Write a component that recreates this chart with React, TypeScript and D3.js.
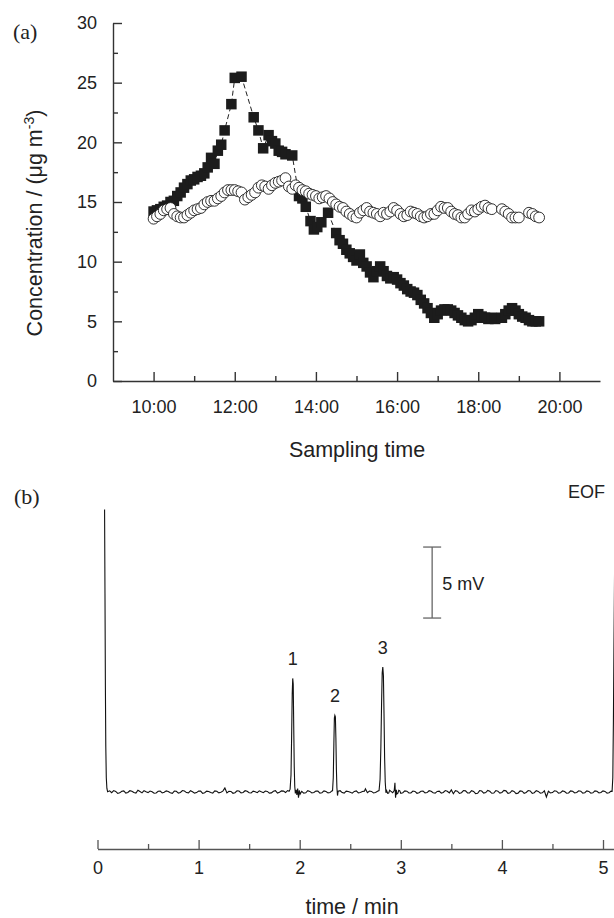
import { useEffect, useRef } from "react";
import * as d3 from "d3";

const W = 614;
const H = 918;
const SANS = "'Liberation Sans', Arial, Helvetica, sans-serif";
const SERIF = "'Liberation Serif', 'Times New Roman', serif";

// panel (a): sampling time vs concentration (µg m-3)
const squareSeries: [string, number][] = [
  ["10:00", 14.2], ["10:05", 14.3], ["10:10", 14.4], ["10:15", 14.6], ["10:20", 14.7],
  ["10:25", 15.0], ["10:30", 15.1], ["10:35", 15.5], ["10:40", 15.8], ["10:45", 16.2],
  ["10:50", 16.5], ["10:55", 16.8], ["11:00", 16.9], ["11:05", 17.1], ["11:10", 17.2],
  ["11:15", 17.4], ["11:20", 17.9], ["11:25", 18.7], ["11:30", 18.2], ["11:35", 19.3],
  ["11:40", 19.8], ["11:45", 21.0], ["11:55", 23.2], ["12:00", 25.4], ["12:10", 25.5],
  ["12:28", 22.1], ["12:35", 21.0], ["12:42", 19.5], ["12:50", 20.6], ["12:55", 20.1],
  ["13:00", 19.9], ["13:05", 19.3], ["13:10", 19.2], ["13:15", 19.0], ["13:25", 18.9],
  ["13:35", 15.5], ["13:40", 15.3], ["13:45", 14.6], ["13:52", 13.4], ["13:57", 12.7],
  ["14:02", 12.9], ["14:08", 13.3], ["14:18", 14.1], ["14:30", 12.4], ["14:35", 11.8],
  ["14:40", 11.5], ["14:45", 11.0], ["14:50", 10.7], ["14:55", 10.4], ["15:00", 10.1],
  ["15:05", 10.6], ["15:10", 9.9], ["15:15", 9.6], ["15:20", 9.1], ["15:25", 8.7],
  ["15:30", 9.2], ["15:35", 9.6], ["15:40", 9.2], ["15:45", 8.8], ["15:50", 8.6],
  ["15:55", 8.7], ["16:00", 8.5], ["16:05", 8.2], ["16:10", 8.0], ["16:15", 7.7],
  ["16:20", 7.5], ["16:25", 7.4], ["16:30", 7.2], ["16:35", 6.8], ["16:40", 6.5],
  ["16:45", 6.1], ["16:50", 5.7], ["16:55", 5.3], ["17:00", 5.6], ["17:05", 5.9],
  ["17:10", 6.0], ["17:15", 6.0], ["17:20", 5.9], ["17:25", 5.7], ["17:30", 5.5],
  ["17:35", 5.3], ["17:40", 5.1], ["17:45", 5.0], ["17:50", 5.1], ["17:55", 5.3],
  ["18:00", 5.6], ["18:05", 5.4], ["18:10", 5.3], ["18:15", 5.2], ["18:20", 5.3],
  ["18:25", 5.2], ["18:35", 5.3], ["18:40", 5.6], ["18:45", 5.9], ["18:50", 6.1],
  ["18:55", 5.9], ["19:00", 5.6], ["19:05", 5.4], ["19:10", 5.3], ["19:15", 5.1],
  ["19:20", 5.0], ["19:25", 5.0], ["19:30", 5.0],
];

const circleSeries: [string, number][] = [
  ["10:00", 13.6], ["10:05", 13.8], ["10:10", 14.0], ["10:15", 14.3], ["10:20", 14.4],
  ["10:25", 14.5], ["10:30", 14.0], ["10:35", 13.8], ["10:40", 13.7], ["10:45", 13.7],
  ["10:50", 13.9], ["10:55", 14.1], ["11:00", 14.3], ["11:05", 14.4], ["11:10", 14.5],
  ["11:15", 14.8], ["11:20", 15.0], ["11:25", 15.1], ["11:30", 15.1], ["11:35", 15.3],
  ["11:40", 15.5], ["11:45", 15.8], ["11:50", 16.0], ["11:55", 16.0], ["12:00", 16.0],
  ["12:05", 15.9], ["12:10", 15.8], ["12:15", 15.2], ["12:20", 15.4], ["12:25", 15.6],
  ["12:30", 15.8], ["12:35", 16.2], ["12:40", 16.4], ["12:45", 16.3], ["12:50", 16.1],
  ["12:55", 16.4], ["13:00", 16.6], ["13:05", 16.7], ["13:10", 16.8], ["13:15", 17.0],
  ["13:20", 16.3], ["13:25", 16.1], ["13:30", 16.4], ["13:35", 16.2], ["13:40", 16.0],
  ["13:45", 15.9], ["13:50", 15.7], ["13:55", 15.6], ["14:00", 15.5], ["14:05", 15.3],
  ["14:10", 15.4], ["14:15", 15.5], ["14:20", 15.3], ["14:25", 15.0], ["14:30", 14.8],
  ["14:35", 14.6], ["14:40", 14.5], ["14:45", 14.2], ["14:50", 14.0], ["14:55", 13.8],
  ["15:00", 13.7], ["15:05", 14.1], ["15:10", 14.3], ["15:15", 14.5], ["15:20", 14.2],
  ["15:25", 14.1], ["15:30", 14.0], ["15:35", 13.8], ["15:40", 14.1], ["15:45", 14.0],
  ["15:50", 14.2], ["15:55", 14.5], ["16:00", 14.3], ["16:05", 14.0], ["16:10", 13.8],
  ["16:15", 13.9], ["16:20", 14.2], ["16:25", 14.1], ["16:30", 14.0], ["16:35", 13.8],
  ["16:40", 13.7], ["16:45", 13.8], ["16:50", 14.0], ["16:55", 14.0], ["17:00", 14.3],
  ["17:05", 14.6], ["17:10", 14.5], ["17:15", 14.5], ["17:20", 14.2], ["17:25", 14.0],
  ["17:30", 13.9], ["17:35", 13.7], ["17:40", 13.7], ["17:45", 14.0], ["17:50", 14.3],
  ["17:55", 14.2], ["18:00", 14.4], ["18:05", 14.6], ["18:10", 14.7], ["18:15", 14.5],
  ["18:20", 14.4], ["18:35", 14.4], ["18:40", 14.2], ["18:45", 14.0], ["18:50", 13.7],
  ["18:55", 13.7], ["19:00", 13.7], ["19:15", 14.1], ["19:20", 14.0], ["19:25", 13.8],
  ["19:30", 13.7],
];

const hourTicks = [10, 12, 14, 16, 18, 20];
const hourMinor = [11, 13, 15, 17, 19];
const concTicks = [0, 5, 10, 15, 20, 25, 30];
const concMinor = [2.5, 7.5, 12.5, 17.5, 22.5, 27.5];

// panel (b): electropherogram, time (min) vs signal (mV above baseline)
const minTicks = [0, 1, 2, 3, 4, 5];
const minMinor = [0.5, 1.5, 2.5, 3.5, 4.5];

const chromTrace: [number, number][] = [
  [0.070, 19.9], [0.074, 14.0], [0.078, 7.5], [0.082, 3.2], [0.087, 1.0], [0.093, 0.25], [0.10, 0.02],
  [0.12, 0.08], [0.14, -0.05], [0.16, 0.1], [0.18, 0.04], [0.20, -0.1], [0.22, -0.06], [0.24, 0.05],
  [0.26, 0.08], [0.28, -0.08], [0.30, -0.03], [0.32, 0.09], [0.34, 0.05], [0.36, -0.04], [0.38, -0.08],
  [0.40, 0.12], [0.42, 0.03], [0.44, -0.06], [0.46, 0.1], [0.48, 0.02], [0.50, -0.04], [0.52, 0.07],
  [0.54, 0.02], [0.56, -0.09], [0.58, -0.07], [0.60, 0.05], [0.62, 0.06], [0.64, -0.07], [0.66, -0.02],
  [0.68, 0.08], [0.70, 0.04], [0.72, -0.05], [0.74, -0.09], [0.76, 0.06], [0.78, 0.05], [0.80, -0.08],
  [0.82, -0.03], [0.84, 0.1], [0.86, 0.07], [0.88, -0.04], [0.90, -0.06], [0.92, 0.09], [0.94, 0.02],
  [0.96, -0.08], [0.98, -0.04], [1.00, 0.07], [1.02, 0.06], [1.04, -0.1], [1.06, -0.05], [1.08, 0.06],
  [1.10, 0.03], [1.12, -0.04], [1.14, -0.08], [1.16, 0.08], [1.18, 0.05], [1.20, -0.06], [1.22, -0.02],
  [1.24, 0.06], [1.26, 0.28], [1.28, -0.06], [1.30, 0.05], [1.32, 0.04], [1.34, -0.09], [1.36, -0.05],
  [1.38, 0.08], [1.40, 0.07], [1.42, -0.06], [1.44, -0.03], [1.46, 0.09], [1.48, 0.05], [1.50, -0.05],
  [1.52, -0.07], [1.54, 0.06], [1.56, 0.02], [1.58, -0.05], [1.60, 0.08], [1.62, 0.01], [1.64, -0.05],
  [1.66, 0.07], [1.68, 0.04], [1.70, -0.08], [1.72, -0.06], [1.74, 0.05], [1.76, 0.09], [1.78, -0.07],
  [1.80, -0.02], [1.82, 0.08], [1.84, 0.06], [1.86, -0.04], [1.88, 0.1], [1.895, 0.05], [1.905, 0.2],
  [1.914, 1.2], [1.920, 3.8], [1.926, 6.9], [1.931, 8.0], [1.936, 7.6], [1.941, 4.6], [1.946, 1.8],
  [1.951, 0.4], [1.957, -0.1],
  [1.965, 0.15], [1.972, -0.2], [1.980, 0.25], [1.988, -0.4], [1.996, 0.12], [2.004, -0.15], [2.02, 0.05],
  [2.04, -0.08], [2.06, -0.06], [2.08, 0.09], [2.10, 0.04], [2.12, -0.07], [2.14, -0.03], [2.16, 0.06],
  [2.18, 0.07], [2.20, -0.08], [2.22, -0.05], [2.24, 0.08], [2.26, 0.03], [2.28, -0.06], [2.30, -0.04],
  [2.315, 0.06], [2.325, 0.1],
  [2.332, 1.0], [2.338, 3.4], [2.343, 5.2], [2.348, 5.4], [2.353, 5.3], [2.358, 3.8], [2.363, 1.6],
  [2.368, 0.3], [2.374, -0.25],
  [2.38, 0.05], [2.40, 0.09], [2.42, -0.04], [2.44, -0.08], [2.46, 0.06], [2.48, 0.04], [2.50, -0.02],
  [2.52, -0.08], [2.54, 0.04], [2.56, 0.08], [2.58, -0.06], [2.60, -0.03], [2.62, 0.03], [2.64, 0.06],
  [2.65, 0.22], [2.67, -0.05], [2.69, 0.07], [2.71, 0.04], [2.73, -0.07], [2.75, -0.03], [2.77, 0.05],
  [2.785, 0.1],
  [2.795, 0.9], [2.803, 3.2], [2.810, 6.3], [2.816, 8.4], [2.822, 8.8], [2.828, 8.2], [2.834, 5.5],
  [2.840, 2.4], [2.846, 0.7], [2.853, -0.05],
  [2.86, 0.1], [2.87, -0.1], [2.88, -0.08], [2.89, 0.12], [2.90, 0.06], [2.92, -0.05], [2.935, 0.1],
  [2.942, 0.65], [2.948, -0.4], [2.956, 0.15], [2.96, -0.15], [2.97, -0.1], [2.98, 0.12], [2.99, 0.08],
  [3.00, -0.1], [3.02, -0.05], [3.04, 0.08], [3.06, 0.06], [3.08, -0.06], [3.10, -0.07], [3.12, 0.07],
  [3.14, 0.04], [3.16, -0.09], [3.18, -0.05], [3.20, 0.05], [3.22, 0.07], [3.24, -0.06], [3.26, -0.04],
  [3.28, 0.09], [3.30, 0.05], [3.32, -0.05], [3.34, -0.08], [3.36, 0.04], [3.38, 0.06], [3.40, -0.08],
  [3.42, -0.03], [3.44, 0.1], [3.46, 0.05], [3.48, -0.06], [3.50, 0.15], [3.52, -0.12], [3.54, 0.09],
  [3.56, 0.06], [3.58, -0.1], [3.60, -0.05], [3.62, 0.1], [3.64, 0.08], [3.66, -0.07], [3.68, -0.06],
  [3.70, 0.09], [3.72, 0.04], [3.74, -0.12], [3.76, -0.09], [3.78, 0.1], [3.80, 0.07], [3.82, -0.08],
  [3.84, -0.04], [3.86, 0.11], [3.88, 0.05], [3.90, -0.09], [3.92, -0.07], [3.94, 0.1], [3.96, 0.06],
  [3.98, -0.08], [4.00, -0.03], [4.02, 0.11], [4.04, 0.08], [4.06, -0.1], [4.08, -0.06], [4.10, 0.09],
  [4.12, 0.04], [4.14, -0.11], [4.16, -0.08], [4.18, 0.08], [4.20, 0.06], [4.22, -0.09], [4.24, -0.03],
  [4.26, 0.1], [4.28, 0.07], [4.30, -0.1], [4.32, -0.05], [4.34, 0.09], [4.36, 0.04], [4.38, -0.08],
  [4.40, -0.06], [4.42, 0.08], [4.44, -0.35], [4.46, 0.05], [4.48, -0.07], [4.50, -0.04], [4.52, 0.09],
  [4.54, 0.06], [4.56, -0.08], [4.58, -0.05], [4.60, 0.08], [4.62, 0.03], [4.64, -0.09], [4.66, -0.07],
  [4.68, 0.08], [4.70, 0.05], [4.72, -0.07], [4.74, -0.03], [4.76, 0.09], [4.78, 0.06], [4.80, -0.08],
  [4.82, -0.05], [4.84, 0.08], [4.86, 0.04], [4.88, -0.09], [4.90, -0.06], [4.92, 0.08], [4.94, 0.05],
  [4.96, -0.07], [4.98, -0.03], [5.00, 0.08], [5.02, 0.04], [5.04, -0.08], [5.06, -0.05], [5.08, 0.06],
  [5.09, 0.05], [5.097, 1.0], [5.103, 5.0], [5.108, 10.0], [5.115, 16.0],
];

const peakLabels = [
  { label: "1", t: 1.931, h: 8.0 },
  { label: "2", t: 2.348, h: 5.4 },
  { label: "3", t: 2.822, h: 8.8 },
];

const scaleBar = { t: 3.31, from: 12.25, to: 17.25, label: "5 mV" };

function toHours(s: string) {
  const [h, m] = s.split(":").map(Number);
  return h + m / 60;
}

export default function App() {
  const ref = useRef<SVGSVGElement>(null);

  useEffect(() => {
    const el = ref.current;
    if (!el) return;
    const svg = d3.select(el);
    svg.selectAll("*").remove();

    // ---------- panel (a) ----------
    const x = d3.scaleLinear().domain([9, 21]).range([113, 600]);
    const y = d3.scaleLinear().domain([0, 30]).range([381, 23]);
    const axisColor = "#333";

    const styleAxis = (g: any, size = 18) => {
      g.select(".domain").attr("stroke", axisColor).attr("stroke-width", 1.4);
      g.selectAll(".tick line").attr("stroke", axisColor).attr("stroke-width", 1.4);
      g.selectAll(".tick text")
        .attr("fill", "#222")
        .attr("font-family", SANS)
        .attr("font-size", size);
    };

    svg
      .append("g")
      .attr("transform", "translate(113,0)")
      .call(d3.axisLeft(y).tickValues(concMinor).tickSizeInner(-5).tickSizeOuter(0).tickFormat(() => ""))
      .call((g) => g.select(".domain").remove())
      .call((g) => g.selectAll(".tick line").attr("stroke", axisColor).attr("stroke-width", 1.4));

    svg
      .append("g")
      .attr("transform", "translate(0,381)")
      .call(d3.axisBottom(x).tickValues(hourMinor).tickSizeInner(-5).tickSizeOuter(0).tickFormat(() => ""))
      .call((g) => g.select(".domain").remove())
      .call((g) => g.selectAll(".tick line").attr("stroke", axisColor).attr("stroke-width", 1.4));

    svg
      .append("g")
      .attr("transform", "translate(113,0)")
      .call(d3.axisLeft(y).tickValues(concTicks).tickSizeInner(-9).tickSizeOuter(0).tickPadding(16))
      .call((g) => styleAxis(g));

    svg
      .append("g")
      .attr("transform", "translate(0,381)")
      .call(
        d3
          .axisBottom(x)
          .tickValues(hourTicks)
          .tickSizeInner(-9)
          .tickSizeOuter(0)
          .tickPadding(19)
          .tickFormat((d) => `${d}:00`)
      )
      .call((g) => styleAxis(g));

    svg
      .append("text")
      .attr("x", 357)
      .attr("y", 457)
      .attr("text-anchor", "middle")
      .attr("font-family", SANS)
      .attr("font-size", 21.5)
      .attr("fill", "#222")
      .text("Sampling time");

    const yt = svg
      .append("text")
      .attr("transform", "translate(42,223) rotate(-90)")
      .attr("text-anchor", "middle")
      .attr("font-family", SANS)
      .attr("font-size", 21.5)
      .attr("fill", "#222");
    yt.append("tspan").text("Concentration / (\u03bcg m");
    yt.append("tspan").attr("dy", -8).attr("font-size", 14).text("-3");
    yt.append("tspan").attr("dy", 8).text(")");

    svg
      .append("text")
      .attr("x", 13)
      .attr("y", 39)
      .attr("font-family", SERIF)
      .attr("font-size", 22)
      .attr("fill", "#222")
      .text("(a)");

    const sq = squareSeries.map(([t, v]) => [toHours(t), v] as [number, number]);
    const ci = circleSeries.map(([t, v]) => [toHours(t), v] as [number, number]);

    svg
      .append("path")
      .datum(sq)
      .attr("fill", "none")
      .attr("stroke", "#222")
      .attr("stroke-width", 1)
      .attr("stroke-dasharray", "5,3")
      .attr(
        "d",
        d3
          .line<[number, number]>()
          .x((d) => x(d[0]))
          .y((d) => y(d[1]))
      );

    const side = 10.5;
    svg
      .append("g")
      .selectAll("rect")
      .data(sq)
      .join("rect")
      .attr("x", (d) => x(d[0]) - side / 2)
      .attr("y", (d) => y(d[1]) - side / 2)
      .attr("width", side)
      .attr("height", side)
      .attr("fill", "#1c1c1c");

    svg
      .append("g")
      .selectAll("circle")
      .data(ci)
      .join("circle")
      .attr("cx", (d) => x(d[0]))
      .attr("cy", (d) => y(d[1]))
      .attr("r", 5.4)
      .attr("fill", "#fff")
      .attr("stroke", "#1c1c1c")
      .attr("stroke-width", 0.9);

    // ---------- panel (b) ----------
    const xb = d3.scaleLinear().domain([0, 5.2]).range([97.5, 97.5 + 5.2 * 101.1]);
    const yb = d3.scaleLinear().domain([0, 20]).range([792, 508]);
    const axisB = "#555";

    svg
      .append("g")
      .attr("transform", "translate(0,849)")
      .call(d3.axisBottom(xb).tickValues(minMinor).tickSizeInner(-5).tickSizeOuter(0).tickFormat(() => ""))
      .call((g) => g.select(".domain").remove())
      .call((g) => g.selectAll(".tick line").attr("stroke", axisB).attr("stroke-width", 1.3));

    svg
      .append("g")
      .attr("transform", "translate(0,849)")
      .call(
        d3
          .axisBottom(xb)
          .tickValues(minTicks)
          .tickSizeInner(-9)
          .tickSizeOuter(0)
          .tickPadding(12)
          .tickFormat((d) => String(d))
      )
      .call((g) => {
        g.select(".domain").attr("stroke", axisB).attr("stroke-width", 1.3);
        g.selectAll(".tick line").attr("stroke", axisB).attr("stroke-width", 1.3);
        g.selectAll(".tick text").attr("fill", "#222").attr("font-family", SANS).attr("font-size", 18);
      });

    svg
      .append("text")
      .attr("x", 352)
      .attr("y", 914)
      .attr("text-anchor", "middle")
      .attr("font-family", SANS)
      .attr("font-size", 21.5)
      .attr("fill", "#222")
      .text("time / min");

    svg
      .append("path")
      .datum(chromTrace)
      .attr("fill", "none")
      .attr("stroke", "#111")
      .attr("stroke-width", 1.1)
      .attr(
        "d",
        d3
          .line<[number, number]>()
          .x((d) => xb(d[0]))
          .y((d) => yb(d[1]))
      );

    svg
      .append("g")
      .selectAll("text")
      .data(peakLabels)
      .join("text")
      .attr("x", (d) => xb(d.t))
      .attr("y", (d) => yb(d.h) - 13)
      .attr("text-anchor", "middle")
      .attr("font-family", SANS)
      .attr("font-size", 18)
      .attr("fill", "#222")
      .text((d) => d.label);

    const bx = xb(scaleBar.t);
    const bTop = yb(scaleBar.to);
    const bBot = yb(scaleBar.from);
    const bar = svg.append("g").attr("stroke", "#666").attr("stroke-width", 1.3);
    bar.append("line").attr("x1", bx).attr("x2", bx).attr("y1", bTop).attr("y2", bBot);
    bar.append("line").attr("x1", bx - 9).attr("x2", bx + 9).attr("y1", bTop).attr("y2", bTop);
    bar.append("line").attr("x1", bx - 9).attr("x2", bx + 9).attr("y1", bBot).attr("y2", bBot);
    svg
      .append("text")
      .attr("x", bx + 10)
      .attr("y", (bTop + bBot) / 2 + 7)
      .attr("font-family", SANS)
      .attr("font-size", 18)
      .attr("fill", "#222")
      .text(scaleBar.label);

    svg
      .append("text")
      .attr("x", 605)
      .attr("y", 498)
      .attr("text-anchor", "end")
      .attr("font-family", SANS)
      .attr("font-size", 18)
      .attr("fill", "#222")
      .text("EOF");

    svg
      .append("text")
      .attr("x", 14)
      .attr("y", 504)
      .attr("font-family", SERIF)
      .attr("font-size", 22)
      .attr("fill", "#222")
      .text("(b)");
  }, []);

  return (
    <svg
      ref={ref}
      width={W}
      height={H}
      style={{ position: "absolute", left: 0, top: 0, background: "#fff" }}
    />
  );
}
